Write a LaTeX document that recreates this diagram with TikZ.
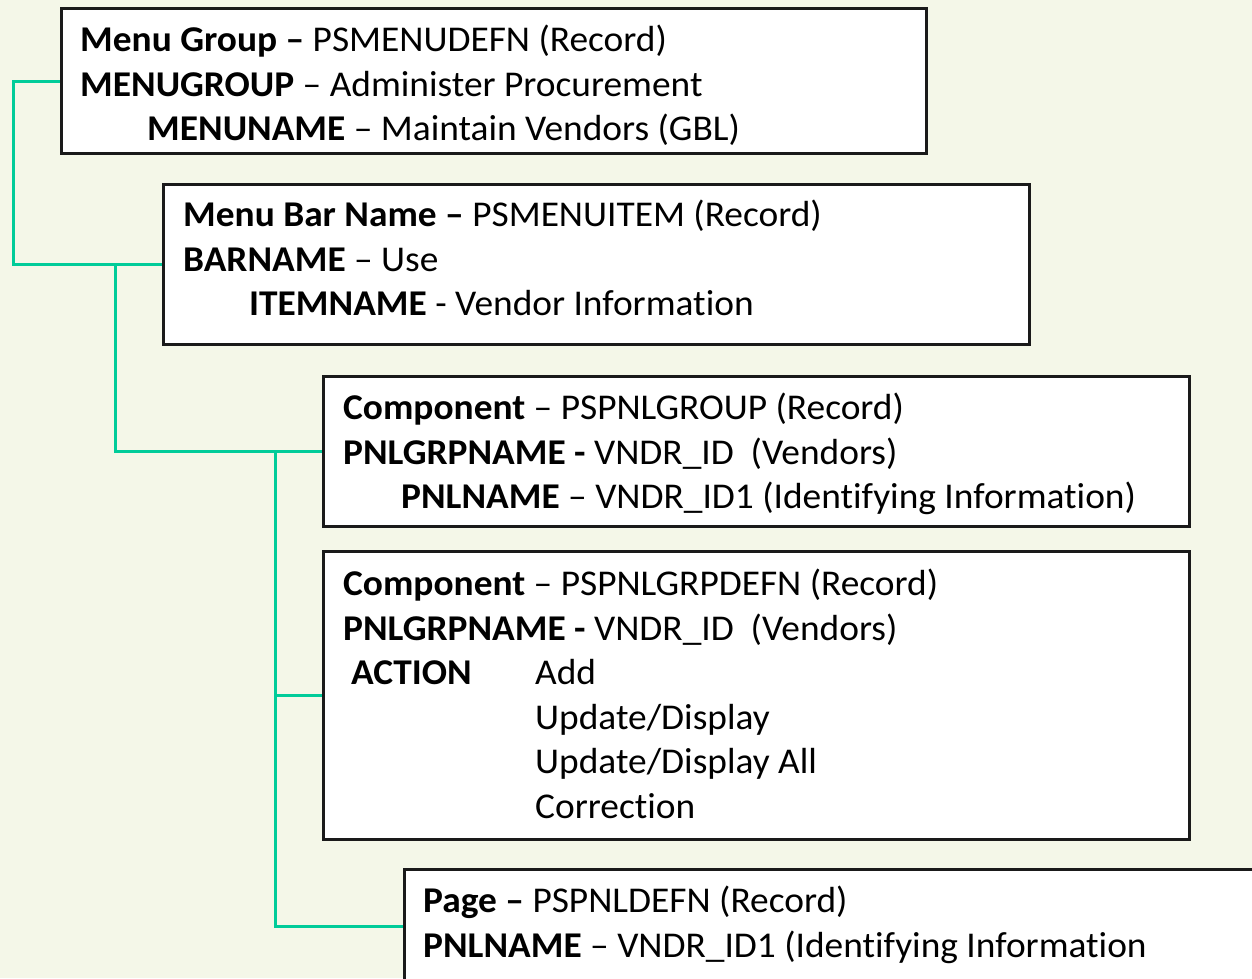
\documentclass[tikz,border=0pt]{standalone}
\usepackage{fontspec}
\setmainfont{Carlito}[FakeStretch=1.03,Ligatures=NoCommon]
\definecolor{bg}{RGB}{244,247,232}
\definecolor{conn}{RGB}{0,204,153}
\definecolor{boxline}{RGB}{26,26,26}
\begin{document}
\begin{tikzpicture}[x=1pt,y=-1pt,
  box/.style={draw=boxline,line width=3pt,fill=white,rectangle,anchor=north west,inner sep=0pt},
  txt/.style={anchor=base west,inner sep=0pt,font=\fontsize{36.3}{44}\selectfont},
  link/.style={draw=conn,line width=3pt}]
\useasboundingbox (0,0) rectangle (1252,978);
\fill[bg] (0,0) rectangle (1252,978);
\clip (0,0) rectangle (1252,978);
% boxes
\node[box,minimum width=865pt,minimum height=145pt] (b1) at (60,7) {};
\node[box,minimum width=866pt,minimum height=160pt] (b2) at (162,183) {};
\node[box,minimum width=866pt,minimum height=150pt] (b3) at (322,375) {};
\node[box,minimum width=866pt,minimum height=288pt] (b4) at (322,550) {};
\node[box,minimum width=900pt,minimum height=114pt] (b5) at (403,868) {};
% connectors
\coordinate (j1) at (115,263);
\coordinate (j2) at (275,450);
\draw[link] (b1.west) -- ++(-47,0) |- (b2.west);
\draw[link] (j1) |- (b3.west);
\draw[link] (j2) |- (b5.west);
\draw[link] (j2 |- b4.west) -- (b4.west);
% box 1 text
\node[txt] (t11) at (80,51.5) {\textbf{Menu Group –} PSMENUDEFN (Record)};
\node[txt] (t12) at (80,96) {\textbf{MENUGROUP} – Administer Procurement};
\node[txt] (t13) at (147,140.5) {\textbf{MENUNAME} – Maintain Vendors (GBL)};
% box 2 text
\node[txt] (t21) at (183,226.5) {\textbf{Menu Bar Name –} PSMENUITEM (Record)};
\node[txt] (t22) at (183,271) {\textbf{BARNAME} – Use};
\node[txt] (t23) at (249,315.5) {\textbf{ITEMNAME} - Vendor Information};
% box 3 text
\node[txt] (t31) at (343,419.5) {\textbf{Component} – PSPNLGROUP (Record)};
\node[txt] (t32) at (343,464) {\textbf{PNLGRPNAME -} VNDR\_ID\ \ (Vendors)};
\node[txt] (t33) at (401,508.5) {\textbf{PNLNAME} – VNDR\_ID1 (Identifying Information)};
% box 4 text
\node[txt] (t41) at (343,595.5) {\textbf{Component} – PSPNLGRPDEFN (Record)};
\node[txt] (t42) at (343,640) {\textbf{PNLGRPNAME -} VNDR\_ID\ \ (Vendors)};
\node[txt] (t43) at (351,684.5) {\textbf{ACTION}};
\node[txt] (t44) at (535,684.5) {Add};
\node[txt] (t45) at (535,729) {Update/Display};
\node[txt] (t46) at (535,773.5) {Update/Display All};
\node[txt] (t47) at (535,818) {Correction};
% box 5 text
\node[txt] (t51) at (423,912.5) {\textbf{Page –} PSPNLDEFN (Record)};
\node[txt] (t52) at (423,957) {\textbf{PNLNAME} – VNDR\_ID1 (Identifying Information};
\end{tikzpicture}
\end{document}
